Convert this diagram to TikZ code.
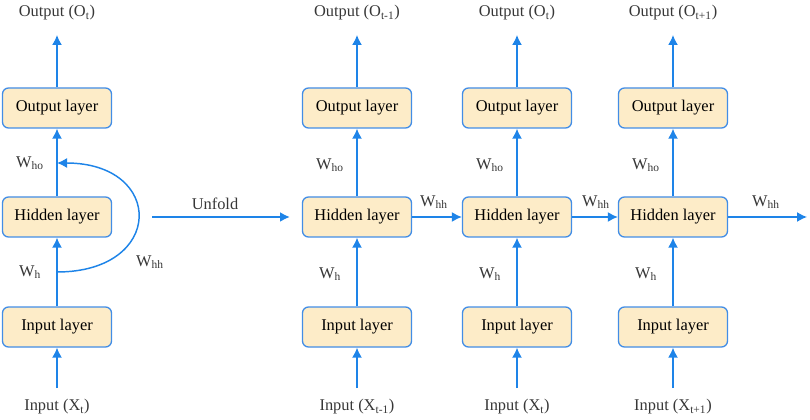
\documentclass[tikz,border=0pt]{standalone}
\usepackage{fontspec}
\setmainfont{Liberation Serif}
\usetikzlibrary{arrows.meta}
\definecolor{layerfill}{RGB}{253,236,200}
\definecolor{layerline}{RGB}{66,141,230}
\definecolor{flowblue}{RGB}{30,132,232}
\definecolor{labelgrey}{RGB}{55,55,55}
\tikzset{
  layer/.style={draw=layerline, fill=layerfill, rounded corners=4.5pt, line width=1pt,
    minimum width=81.75pt, minimum height=30pt, inner sep=0pt, font=\fontsize{12.3}{14}\selectfont},
  flow/.style={draw=flowblue, line width=1.1pt, -{Latex[length=7.5pt,width=7.5pt]}},
  wlabel/.style={text=labelgrey, inner sep=1pt, font=\fontsize{12.3}{14}\selectfont},
}
\begin{document}
\begin{tikzpicture}[x=0.75pt,y=-0.75pt]
\useasboundingbox (0,0) rectangle (810,420);
{
    % folded network
    \node[layer] (in0) at (57,327) {Input layer};
    \node[layer] (hid0) at (57,217) {Hidden layer};
    \node[layer] (out0) at (57,108) {Output layer};
    \node[wlabel] (x0) at (57,407) {Input (X\textsubscript{t})};
    \node[wlabel] (o0) at (57,13) {Output (O\textsubscript{t})};
    \coordinate (xa0) at (57,388);
    \coordinate (oa0) at (57,35);
    \coordinate (loopin) at (57,272);
    \coordinate (loopout) at (57,163);

    \draw[flow] (xa0) -- (in0);
    \draw[flow] (in0) -- (hid0);
    \draw[flow] (hid0) -- (out0);
    \draw[flow] (out0) -- (oa0);
    \draw[flow] (loopin) .. controls (165,272) and (165,163) .. (loopout);

    \node[wlabel] (who0) at (30,163) {W\textsubscript{ho}};
    \node[wlabel] (wh0) at (30,272) {W\textsubscript{h}};
    \node[wlabel] (whh0) at (150,262) {W\textsubscript{hh}};

    % unfold
    \coordinate (ufa) at (152,217);
    \coordinate (ufb) at (290,217);
    \draw[flow, line width=1.6pt] (ufa) -- (ufb);
    \node[wlabel] (unfold) at (215,204) {Unfold};
}
{
    % unfolded network
    \foreach \i/\x/\s in {1/357/t-1, 2/517/t, 3/673/t+1} {
        \node[layer] (in\i) at (\x,327) {Input layer};
        \node[layer] (hid\i) at (\x,217) {Hidden layer};
        \node[layer] (out\i) at (\x,108) {Output layer};
        \node[wlabel] (x\i) at (\x,407) {Input (X\textsubscript{\s})};
        \node[wlabel] (o\i) at (\x,13) {Output (O\textsubscript{\s})};
        \coordinate (xa\i) at (\x,388);
        \coordinate (oa\i) at (\x,35);

        \draw[flow] (xa\i) -- (in\i);
        \draw[flow] (in\i) -- (hid\i);
        \draw[flow] (hid\i) -- (out\i);
        \draw[flow] (out\i) -- (oa\i);

        \node[wlabel] (who\i) at (\x-27,165) {W\textsubscript{ho}};
        \node[wlabel] (wh\i) at (\x-27,274) {W\textsubscript{h}};
    }
    \coordinate (hhend) at (807,217);
    \draw[flow] (hid1) -- (hid2);
    \draw[flow] (hid2) -- (hid3);
    \draw[flow] (hid3) -- (hhend);

    \node[wlabel] (whh1) at (434,202) {W\textsubscript{hh}};
    \node[wlabel] (whh2) at (596,202) {W\textsubscript{hh}};
    \node[wlabel] (whh3) at (766,202) {W\textsubscript{hh}};
}
\end{tikzpicture}
\end{document}
